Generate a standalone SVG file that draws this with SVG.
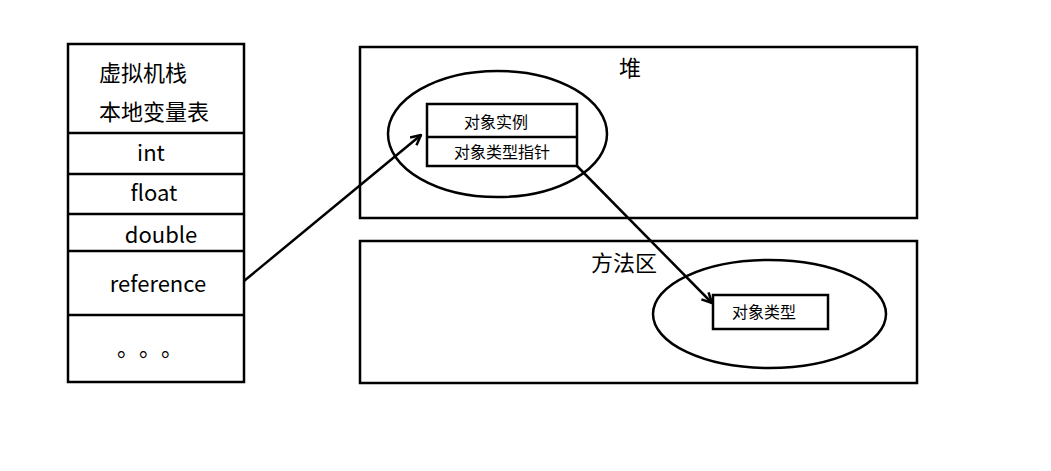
<svg xmlns="http://www.w3.org/2000/svg" width="1051" height="471" viewBox="0 0 1051 471">
<style>
.b{fill:none;stroke:#000;stroke-width:2.5}
.t{font-family:"Microsoft YaHei","Noto Sans CJK SC","Noto Sans",sans-serif;fill:#000}
.L{font-size:22px}
.S{font-size:16px}
.c{stroke:#000;stroke-width:2.5;fill:none}
</style>
<defs>
<marker id="ah" viewBox="0 0 12 12" refX="11" refY="6" markerWidth="12" markerHeight="12" markerUnits="userSpaceOnUse" orient="auto">
<path d="M1,1 L11,6 L1,11" fill="none" stroke="#000" stroke-width="2.5"/>
</marker>
</defs>
<rect width="1051" height="471" fill="#fff"/>
<g id="stack">
<rect class="b" x="68" y="44" width="176" height="338"/>
<line class="b" x1="68" y1="133" x2="244" y2="133"/>
<line class="b" x1="68" y1="174" x2="244" y2="174"/>
<line class="b" x1="68" y1="214" x2="244" y2="214"/>
<line class="b" x1="68" y1="251" x2="244" y2="251"/>
<line class="b" x1="68" y1="315" x2="244" y2="315"/>
<text class="t L" x="99" y="81">虚拟机栈</text>
<text class="t L" x="99" y="120">本地变量表</text>
<text class="t L" x="151" y="161" text-anchor="middle">int</text>
<text class="t L" x="154" y="201" text-anchor="middle">float</text>
<text class="t L" x="161" y="243" text-anchor="middle">double</text>
<text class="t L" x="158" y="292" text-anchor="middle">reference</text>
<text class="t L" x="117" y="356">。</text>
<text class="t L" x="139" y="356">。</text>
<text class="t L" x="161" y="356">。</text>
</g>
<g id="heap">
<rect class="b" x="360" y="47" width="557" height="171"/>
<text class="t L" x="630" y="76" text-anchor="middle">堆</text>
<ellipse class="b" cx="497.5" cy="134" rx="109.5" ry="63"/>
</g>
<g id="instance">
<rect class="b" x="427" y="104" width="150" height="62"/>
<line class="b" x1="427" y1="137" x2="577" y2="137"/>
<text class="t S" x="496" y="128" text-anchor="middle">对象实例</text>
<text class="t S" x="502" y="158" text-anchor="middle">对象类型指针</text>
</g>
<g id="method">
<rect class="b" x="360" y="241" width="557" height="142"/>
<text class="t L" x="624" y="271" text-anchor="middle">方法区</text>
<ellipse class="b" cx="769.5" cy="314" rx="116.5" ry="54"/>
</g>
<g id="type">
<rect class="b" x="713" y="295" width="115" height="34"/>
<text class="t S" x="764" y="318" text-anchor="middle">对象类型</text>
</g>
<g id="connectors">
<line class="c" x1="244" y1="281" x2="421" y2="135" marker-end="url(#ah)"/>
<line class="c" x1="577" y1="166" x2="712" y2="303" marker-end="url(#ah)"/>
</g>
</svg>
